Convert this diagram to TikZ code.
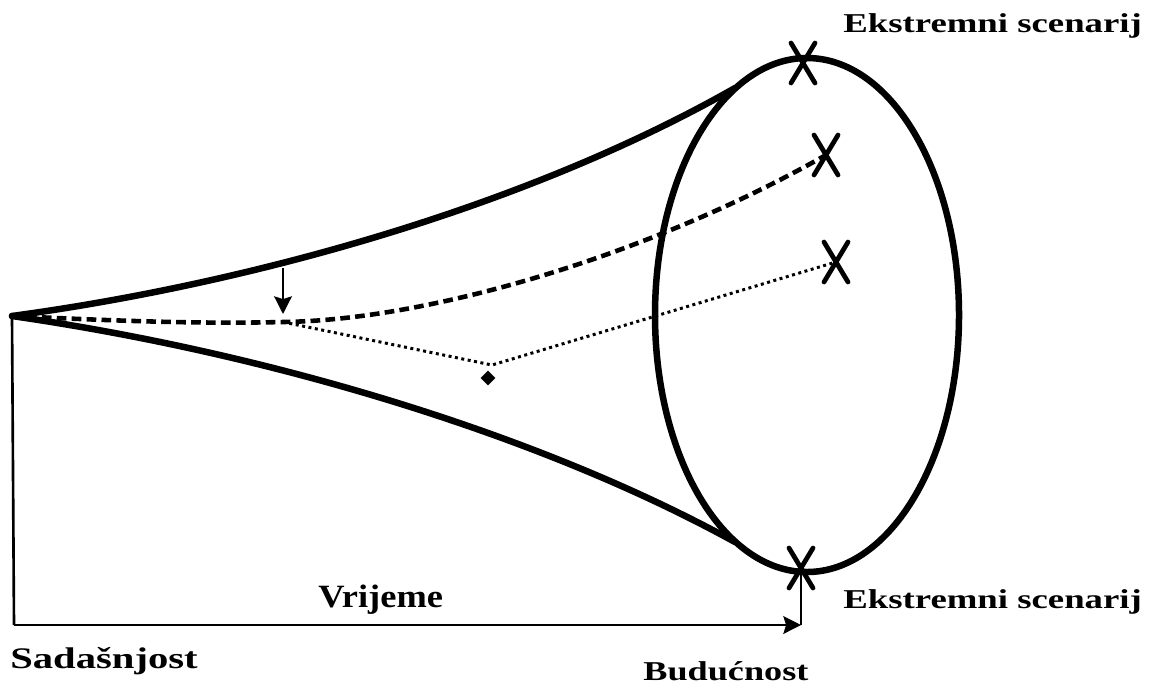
\documentclass[tikz,border=0pt]{standalone}
\usepackage{fontspec}
\setmainfont{Liberation Serif}
\usetikzlibrary{arrows.meta, shapes.geometric, positioning}
\newcommand{\stretchlbl}[2]{\scalebox{#1}[1]{#2}}

\begin{document}
\begin{tikzpicture}[x=0.02cm, y=-0.02cm,
    >={Stealth[length=10pt,width=10pt,inset=1.5pt]},
    funnel/.style={line width=3.7pt, line cap=round},
    midline/.style={line width=2.6pt, dash pattern=on 5.5pt off 3pt},
    lowline/.style={line width=1.7pt, dash pattern=on 1.7pt off 2pt},
    axisline/.style={line width=1.5pt},
    lbl/.style={font=\fontsize{15.5}{18}\selectfont\bfseries, inner sep=0pt, anchor=base west},
    xmark/.pic={\draw[line width=2.7pt, line cap=round] (-12,-20) -- (12,20) (12,-20) -- (-12,20);}]

    \useasboundingbox (0,0) rectangle (1151,684);

    % =====================
    % Points
    % =====================
    \coordinate (O) at (12,316);
    \coordinate (P) at (283,322);
    \coordinate (Q) at (492,365);
    \coordinate (C) at (807,315);
    \coordinate (U) at (735,88);
    \coordinate (L) at (735,542);
    \coordinate (X1) at (803,63);
    \coordinate (X2) at (826,155);
    \coordinate (X3) at (836,262);
    \coordinate (X4) at (801,568);
    \coordinate (A) at (283,268);
    \coordinate (Atip) at (283,314);
    \coordinate (T0) at (14,625);
    \coordinate (T1) at (801,625);

    % =====================
    % Funnel and ellipse
    % =====================
    \draw[funnel] (O) .. controls (262,282) and (535,202) .. (U);
    \draw[funnel] (O) .. controls (262,352) and (535,432) .. (L);
    \draw[funnel] (C) ellipse [x radius=152, y radius=257];

    % =====================
    % Scenario paths
    % =====================
    \draw[midline] (O) .. controls (120,321) and (200,324) .. (P)
        .. controls (430,320) and (650,255) .. (X2);
    \draw[lowline] (P) -- (Q) -- (X3);
    \node[diamond, fill, inner sep=0pt, minimum width=0.3cm, minimum height=0.3cm] (D) at (488,378) {};
    \draw[->, axisline] (A) -- (Atip);

    \pic at (X1) {xmark};
    \pic at (X2) {xmark};
    \pic at (X3) {xmark};
    \pic at (X4) {xmark};

    % =====================
    % Time axis
    % =====================
    \draw[axisline] (O) -- (T0);
    \draw[->, axisline] (T0) -- (T1);
    \draw[axisline] (X4) -- (T1);

    % =====================
    % Labels
    % =====================
    \node[lbl] (ext1) at (843,32) {\stretchlbl{1.35}{Ekstremni scenarij}};
    \node[lbl] (ext2) at (843,608) {\stretchlbl{1.35}{Ekstremni scenarij}};
    \node[lbl, font=\fontsize{18.5}{20}\selectfont\bfseries] (vri) at (318,607) {\stretchlbl{1.12}{Vrijeme}};
    \node[lbl, font=\fontsize{17}{20}\selectfont\bfseries] (sad) at (10,668) {\stretchlbl{1.36}{Sadašnjost}};
    \node[lbl] (bud) at (643,680) {\stretchlbl{1.33}{Budućnost}};

\end{tikzpicture}
\end{document}
